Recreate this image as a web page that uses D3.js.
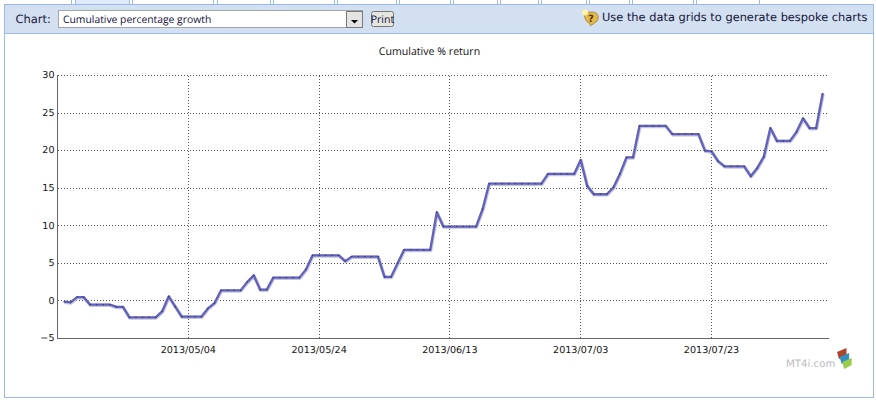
<!DOCTYPE html>
<html>
<head>
<meta charset="utf-8">
<script src="https://cdn.jsdelivr.net/npm/d3@7"></script>
<style>
html,body{margin:0;padding:0;background:#fff;overflow:hidden}
svg{display:block}
text{text-rendering:geometricPrecision}
</style>
</head>
<body>
<script>
const startDay = "2013-04-15";
const returnValues = [
 -0.1,-0.2,0.5,0.5,-0.5,-0.5,-0.5,-0.5,-0.8,-0.8,
 -2.2,-2.2,-2.2,-2.2,-2.2,-1.4,0.6,-0.75,-2.1,-2.1,
 -2.1,-2.1,-1.0,-0.3,1.4,1.4,1.4,1.4,2.5,3.4,
 1.5,1.5,3.1,3.1,3.1,3.1,3.1,4.2,6.05,6.05,
 6.05,6.05,6.05,5.3,5.9,5.9,5.9,5.9,5.9,3.2,
 3.2,5.0,6.8,6.8,6.8,6.8,6.8,11.8,9.9,9.9,
 9.9,9.9,9.9,9.9,12.2,15.6,15.6,15.6,15.6,15.6,
 15.6,15.6,15.6,15.6,16.9,16.9,16.9,16.9,16.9,18.75,
 15.3,14.2,14.2,14.2,15.1,16.9,19.1,19.1,23.3,23.3,
 23.3,23.3,23.3,22.2,22.2,22.2,22.2,22.2,20.0,19.9,
 18.6,17.9,17.9,17.9,17.9,16.6,17.7,19.2,23.0,21.3,
 21.3,21.3,22.5,24.3,23.0,23.0,27.6
];
const yTickValues = [-5,0,5,10,15,20,25,30];
const xTickLabels = ["2013/05/04","2013/05/24","2013/06/13","2013/07/03","2013/07/23"];
const tabEdges = [71.5,75,129,132.5,213.5,217,270,273,334,337,396,399,450,453,497,500,538,541,586,589,629,632,693,696,759];
const chartTitle = "Cumulative % return";
const selectLabel = "Chart:";
const selectText = "Cumulative percentage growth";
const hintText = "Use the data grids to generate bespoke charts";
const logoText = "MT4i.com";

const W = 876, H = 400;
const parse = d3.utcParse("%Y-%m-%d"), parseTick = d3.utcParse("%Y/%m/%d"), fmtTick = d3.utcFormat("%Y/%m/%d");
const first = parse(startDay);
const dates = returnValues.map((_, i) => d3.utcDay.offset(first, i));
const points = dates.map((d, i) => ({date: d, value: returnValues[i]}));

const svg = d3.select("body").append("svg").attr("width", W).attr("height", H).attr("viewBox", `0 0 ${W} ${H}`);
const uiFont = "'DejaVu Sans',Verdana,sans-serif";
const thinFont = "'Open Sans','Liberation Sans',sans-serif";
const crisp = g => g.attr("shape-rendering", "crispEdges");

// page chrome
const frame = svg.append("g").call(crisp);
frame.append("rect").attr("x",5).attr("y",0).attr("width",754).attr("height",4).attr("fill","#fff");
frame.append("rect").attr("x",75).attr("y",0).attr("width",54).attr("height",4).attr("fill","#dfeafa");
frame.selectAll("line.tab").data(tabEdges).join("line").attr("class","tab")
  .attr("x1",d=>Math.floor(d)+0.5).attr("x2",d=>Math.floor(d)+0.5).attr("y1",0).attr("y2",4).attr("stroke","#9db9e8");
frame.append("rect").attr("x",4.5).attr("y",4.5).attr("width",869).attr("height",393).attr("fill","#fff").attr("stroke","#9db9e8");
frame.append("rect").attr("x",5).attr("y",5).attr("width",868).attr("height",28).attr("fill","#d3e0f1");
frame.append("line").attr("x1",5).attr("x2",873).attr("y1",33.5).attr("y2",33.5).attr("stroke","#9db9e8");

// toolbar
svg.append("text").attr("x",15.5).attr("y",23).attr("font-family",uiFont).attr("font-size",11.5).attr("fill","#1a1a3a").text(selectLabel);
const sel = svg.append("g");
sel.append("rect").attr("x",58.5).attr("y",10.5).attr("width",304).attr("height",17).attr("fill","#fff").attr("stroke","#a5a5a5").attr("shape-rendering","crispEdges");
sel.append("text").attr("x",63).attr("y",23).attr("font-family",thinFont).attr("font-size",10.35).attr("fill","#10103a").text(selectText);
sel.append("rect").attr("x",346.5).attr("y",11.5).attr("width",16).attr("height",15.5).attr("fill","#e4e4e4").attr("stroke","#7a7a7a").attr("shape-rendering","crispEdges");
sel.append("path").attr("d","M351 20h7l-3.5 3.5z").attr("fill","#000");
const pb = svg.append("g");
pb.append("rect").attr("x",371.5).attr("y",11.5).attr("width",22).attr("height",15).attr("rx",2).attr("fill","#e6e6e0").attr("stroke","#777");
pb.append("text").attr("x",382.5).attr("y",23).attr("text-anchor","middle").attr("font-family",thinFont).attr("font-size",10.5).attr("fill","#10103a").text("Print");

// hint icon
const ic = svg.append("g");
ic.append("path").attr("d","M584 14c3-2 9-3 12-1s3 7 0 9c-2 1-3 3-6 3.5 0-1 0-2-1-2.5-3-1-4-4-5-9z").attr("fill","#e2b84a").attr("stroke","#8a6a20").attr("stroke-width",0.6);
ic.append("text").attr("x",591).attr("y",21.5).attr("text-anchor","middle").attr("font-family",uiFont).attr("font-weight","bold").attr("font-size",10).attr("fill","#5a3a10").text("?");
ic.append("circle").attr("cx",585).attr("cy",12.5).attr("r",3).attr("fill","#fff4a8");
svg.append("text").attr("x",602).attr("y",20.5).attr("font-family",uiFont).attr("font-size",11.4).attr("fill","#15153a").text(hintText);

// chart
const x = d3.scaleUtc().domain([parse("2013-04-14"), parse("2013-08-10")]).range([57.5, 57.5 + 6.54*118]);
const xRight = 828.5;
const y = d3.scaleLinear().domain([-5,30]).range([338.5,75.5]);

svg.append("text").attr("x",429.5).attr("y",55).attr("text-anchor","middle").attr("font-family",thinFont).attr("font-size",10.6).attr("fill","#111").text(chartTitle);

const grid = svg.append("g").call(crisp).attr("stroke","#555").attr("stroke-dasharray","1,2").attr("fill","none");
grid.selectAll("line.h").data(yTickValues.filter(v=>v>-5)).join("line").attr("class","h")
  .attr("x1",57.5).attr("x2",xRight).attr("y1",d=>Math.round(y(d)-.5)+.5).attr("y2",d=>Math.round(y(d)-.5)+.5);
const xTicks = xTickLabels.map(s=>parseTick(s));
grid.selectAll("line.v").data(xTicks).join("line").attr("class","v")
  .attr("x1",d=>Math.round(x(d)-.5)+.5).attr("x2",d=>Math.round(x(d)-.5)+.5).attr("y1",75.5).attr("y2",338.5);

const yAxis = svg.append("g").attr("transform","translate(57.5,-0.8)").call(d3.axisLeft(y).tickValues(yTickValues).tickSize(0).tickPadding(3).tickFormat(d3.format("d")));
const xAxis = svg.append("g").attr("transform","translate(-0.5,338.5)").call(d3.axisBottom(x).tickValues(xTicks).tickSize(0).tickPadding(8).tickFormat(fmtTick));
[yAxis,xAxis].forEach(a=>{a.select(".domain").remove(); a.selectAll("text").attr("font-family",uiFont).attr("font-size",9.6).attr("fill","#111");});
const ax = svg.append("g").call(crisp).attr("stroke","#666");
ax.append("line").attr("x1",57.5).attr("x2",57.5).attr("y1",75).attr("y2",339);
ax.append("line").attr("x1",57).attr("x2",xRight).attr("y1",338.5).attr("y2",338.5);

const line = d3.line().x(d=>x(d.date)).y(d=>y(d.value));
svg.append("path").datum(points).attr("d",line).attr("fill","none").attr("stroke","#c4c4d8").attr("stroke-width",3.4).attr("transform","translate(0.4,0.6)").attr("stroke-linejoin","round");
svg.append("path").datum(points).attr("d",line).attr("fill","none").attr("stroke","#6262bc").attr("stroke-width",2.3).attr("stroke-linejoin","round");
svg.append("g").selectAll("rect").data(points).join("rect")
  .attr("x",d=>x(d.date)-0.6).attr("y",d=>y(d.value)-0.6).attr("width",1.2).attr("height",1.2).attr("fill","#33337a");

// logo
svg.append("text").attr("x",786).attr("y",367).attr("font-family",uiFont).attr("font-size",10.2).attr("fill","#bcbcbc").text(logoText);
const logoColors = ["#b0452e","#2f8fbf","#9acb4a"];
svg.append("g").selectAll("path").data(logoColors).join("path")
  .attr("d",(c,i)=>{const ox=837+i*2.6, oy=348+i*5; return `M${ox} ${oy+4}L${ox+9.5} ${oy}V${oy+7}L${ox+2} ${oy+11}Z`;})
  .attr("fill",d=>d);
</script>
</body>
</html>
